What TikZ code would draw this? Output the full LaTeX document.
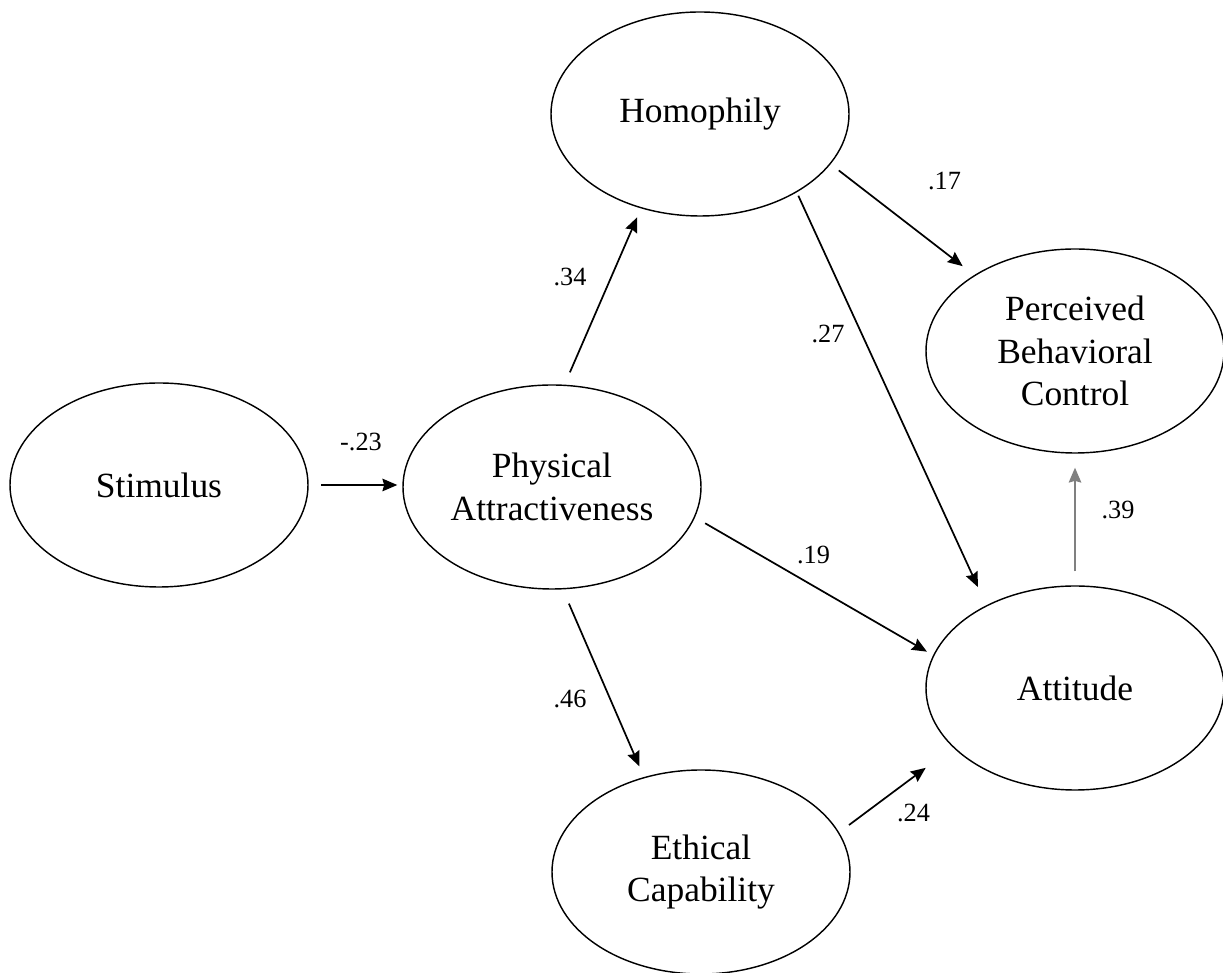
\documentclass[tikz,border=0pt]{standalone}
\usepackage{fontspec}
\setmainfont{Liberation Serif}
\usetikzlibrary{arrows.meta,shapes.geometric}
\begin{document}
\begin{tikzpicture}[x=0.35pt,y=-0.35pt,
  latent/.style={draw, ellipse, line width=0.5pt, inner sep=0pt,
    minimum width=104.3pt, minimum height=71.4pt, align=center,
    font=\fontsize{12.4}{15}\selectfont},
  effect/.style={line width=0.6pt, -{Stealth[length=5.2pt,width=4.4pt,inset=0.6pt]}},
  coef/.style={inner sep=0pt, font=\fontsize{9.2}{11}\selectfont}]
\useasboundingbox (0,0) rectangle (1223,973);

% latent constructs
\node[latent] (stim) at (159,485) {Stimulus};
\node[latent] (pa)   at (552,487) {Physical\\Attractiveness};
\node[latent] (hom)  at (700,114) {Homophily};
\node[latent] (pbc)  at (1075,351) {Perceived\\Behavioral\\Control};
\node[latent] (att)  at (1075,688) {Attitude};
\node[latent] (eth)  at (701,872) {Ethical\\Capability};

% structural paths
\draw[effect, shorten <=4.4pt, shorten >=1.75pt] (stim.east) -- (stim.east -| pa.west);
\draw[effect, shorten <=4.7pt, shorten >=3.4pt] (pa.83) -- (hom.238.8);
\draw[effect, shorten <=5.4pt, shorten >=4.1pt] (pa.276.7) -- (eth.121.4);
\draw[effect, shorten <=4.1pt, shorten >=2.5pt] (pa.348.5) -- (att.167.5);
\draw[effect, shorten <=1.3pt, shorten >=7pt] (hom.321.2) -- (att.137.3);
\draw[effect, shorten <=3.6pt, shorten >=5.1pt] (hom.339.6) -- (pbc.143.1);
\draw[effect, gray, shorten <=4.9pt, shorten >=4.9pt] (att.north) -- (pbc.south);
\draw[effect, shorten <=4.3pt, shorten >=11.9pt] (eth.16.2) -- (att.206.5);

% path coefficients
\node[coef] (c1) at (361,442) {-.23};
\node[coef] (c2) at (570,277) {.34};
\node[coef] (c3) at (570,699) {.46};
\node[coef] (c4) at (813.5,554.5) {.19};
\node[coef] (c5) at (828,333.5) {.27};
\node[coef] (c6) at (944.5,181.5) {.17};
\node[coef] (c7) at (1118,509.5) {.39};
\node[coef] (c8) at (913.5,812.5) {.24};
\end{tikzpicture}
\end{document}
